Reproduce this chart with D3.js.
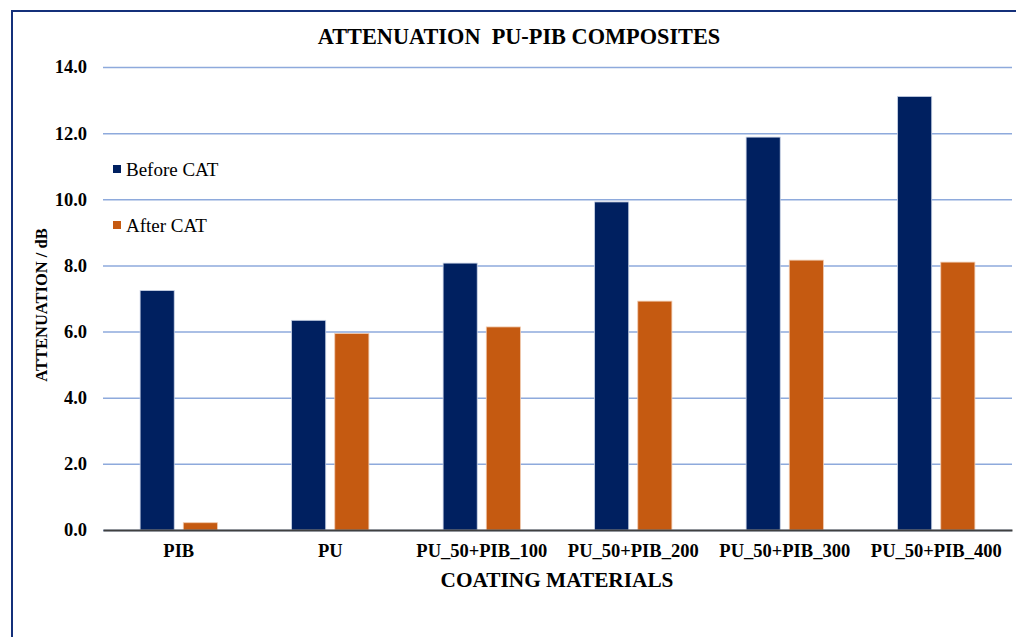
<!DOCTYPE html>
<html><head><meta charset="utf-8">
<script src="https://cdn.jsdelivr.net/npm/d3@7"></script>
<style>body{margin:0;background:#fff}svg{display:block}svg text{font-family:"Liberation Serif","Times New Roman",serif !important}</style>
</head><body>
<svg id="c" width="1016" height="637"></svg>
<script>
const categories = ["PIB","PU","PU_50+PIB_100","PU_50+PIB_200","PU_50+PIB_300","PU_50+PIB_400"];
const seriesNames = ["Before CAT","After CAT"];
const beforeCAT = [7.24, 6.34, 8.07, 9.92, 11.88, 13.11];
const afterCAT  = [0.22, 5.94, 6.14, 6.92, 8.16, 8.10];
const yTicks = [0,2,4,6,8,10,12,14];
const colors = ["#002060","#C55A11"];

const svg = d3.select("#c");
const m = {l:103, r:1012, t:67, b:530};

svg.append("rect").attr("x",12).attr("y",11).attr("width",1020).attr("height",640)
  .attr("fill","none").attr("stroke","#14307a").attr("stroke-width",2);

const x0 = d3.scaleBand().domain(categories).range([m.l,m.r]).paddingInner(0.49).paddingOuter(0.245);
const x1 = d3.scaleBand().domain(seriesNames).range([0,x0.bandwidth()]).paddingInner(0.21);
const y = d3.scaleLinear().domain([0,14]).range([m.b,m.t]);

// gridlines
const yAxis = d3.axisLeft(y).tickValues(yTicks).tickFormat(d3.format(".1f")).tickSize(-(m.r-m.l)).tickPadding(16);
const ga = svg.append("g").attr("transform",`translate(${m.l},0)`).call(yAxis);
ga.select(".domain").remove();
ga.selectAll(".tick line").attr("stroke","#8eaadc").attr("stroke-width",1.5);
ga.selectAll(".tick text").style("font-size","18.5px").style("font-weight","bold").attr("fill","#000");

const data = categories.map((c,i)=>({cat:c, vals:[beforeCAT[i], afterCAT[i]]}));
const g = svg.append("g");
data.forEach(d=>{
  d.vals.forEach((v,j)=>{
    g.append("rect")
      .attr("x", x0(d.cat)+x1(seriesNames[j]))
      .attr("y", y(v))
      .attr("width", x1.bandwidth())
      .attr("height", y(0)-y(v))
      .attr("fill", colors[j])
      .attr("stroke", j===0 ? "#c9d3e6" : "#f0c9ad").attr("stroke-width",0.8);
  });
});

// x axis
const xAxis = d3.axisBottom(x0).tickSize(0).tickPadding(14);
const gx = svg.append("g").attr("transform",`translate(0,${m.b})`).call(xAxis);
gx.select(".domain").attr("stroke","#404040").attr("stroke-width",2);
gx.selectAll(".tick text").style("font-size","18.5px").style("font-weight","bold").attr("fill","#000");

// titles
svg.append("text").attr("x",519).attr("y",44).attr("text-anchor","middle")
  .style("font-size","22.3px").style("font-weight","bold").style("white-space","pre")
  .text("ATTENUATION  PU-PIB COMPOSITES");
svg.append("text").attr("x",557).attr("y",587).attr("text-anchor","middle")
  .style("font-size","21.3px").style("font-weight","bold").text("COATING MATERIALS");
svg.append("text").attr("transform","translate(47,305) rotate(-90)").attr("text-anchor","middle")
  .style("font-size","16.5px").style("font-weight","bold").text("ATTENUATION / dB");

// legend
const legY = [170, 226];
seriesNames.forEach((s,i)=>{
  svg.append("rect").attr("x",113).attr("y",legY[i]-5).attr("width",8).attr("height",8).attr("fill",colors[i]);
  svg.append("text").attr("x",126).attr("y",legY[i]+6).style("font-size","19px").attr("fill","#000").text(s);
});
</script>
</body></html>
